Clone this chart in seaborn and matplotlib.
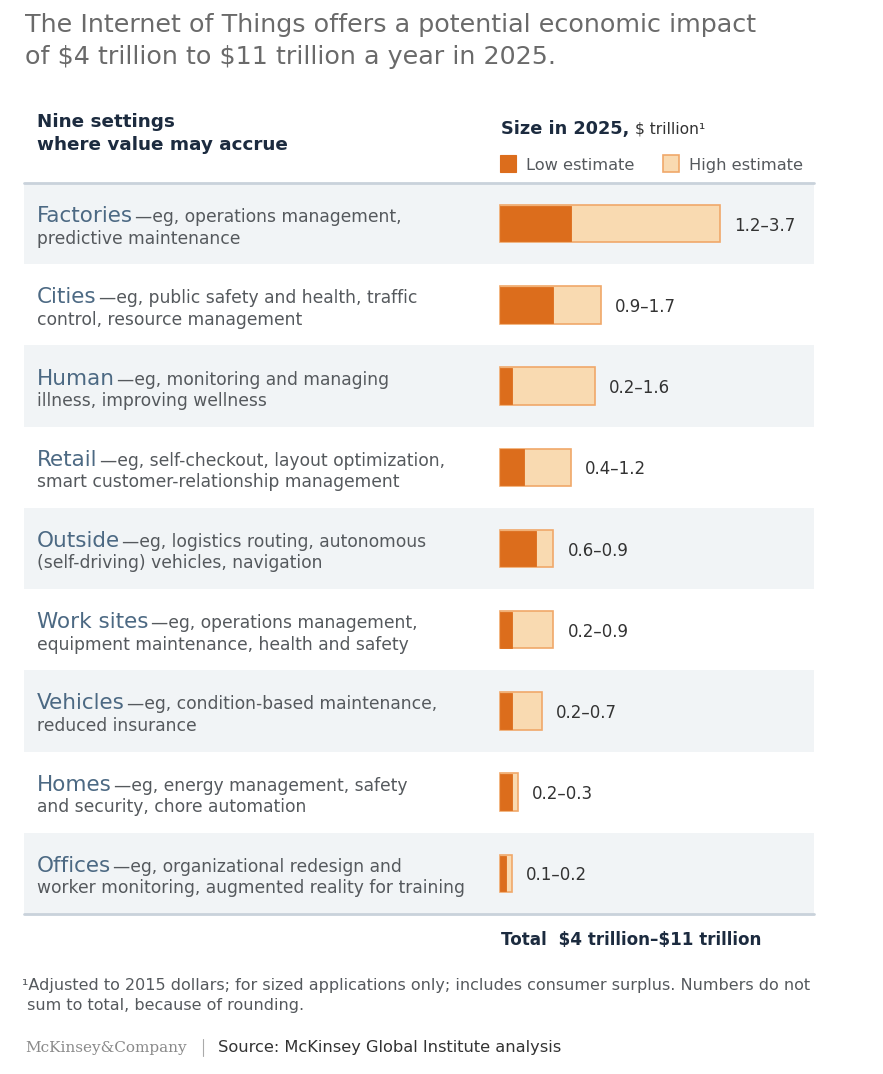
import matplotlib
matplotlib.use("Agg")
import matplotlib.pyplot as plt
import matplotlib.transforms as mtransforms
from matplotlib.patches import Rectangle
import seaborn as sns
import pandas as pd

# ---------------- data ----------------
settings = ["Factories", "Cities", "Human", "Retail", "Outside",
            "Work sites", "Vehicles", "Homes", "Offices"]
desc_line1 = ["—eg, operations management,",
              "—eg, public safety and health, traffic",
              "—eg, monitoring and managing",
              "—eg, self-checkout, layout optimization,",
              "—eg, logistics routing, autonomous",
              "—eg, operations management,",
              "—eg, condition-based maintenance,",
              "—eg, energy management, safety",
              "—eg, organizational redesign and"]
desc_line2 = ["predictive maintenance",
              "control, resource management",
              "illness, improving wellness",
              "smart customer-relationship management",
              "(self-driving) vehicles, navigation",
              "equipment maintenance, health and safety",
              "reduced insurance",
              "and security, chore automation",
              "worker monitoring, augmented reality for training"]
low_estimate = [1.2, 0.9, 0.2, 0.4, 0.6, 0.2, 0.2, 0.2, 0.1]
high_estimate = [3.7, 1.7, 1.6, 1.2, 0.9, 0.9, 0.7, 0.3, 0.2]

title_lines = ["The Internet of Things offers a potential economic impact",
               "of $4 trillion to $11 trillion a year in 2025."]
footnote_lines = ["¹Adjusted to 2015 dollars; for sized applications only; includes consumer surplus. Numbers do not",
                  " sum to total, because of rounding."]
total_text = "Total  $4 trillion–$11 trillion"

# ---------------- style ----------------
sns.set_theme(style="white")
plt.rcParams["font.family"] = ["DejaVu Sans"]
plt.rcParams["text.parse_math"] = False

C_LOW = "#dc6d1c"
C_HIGH = "#f9dab1"
C_HIGH_EDGE = "#f0a86a"
C_STRIPE = "#f1f4f6"
C_RULE = "#c9d2db"
C_NAME = "#4c6983"
C_DESC = "#55595d"
C_NAVY = "#1c2b3f"
C_TITLE = "#6a6a6a"

W, H = 883, 1074
fig = plt.figure(figsize=(W / 100, H / 100), dpi=100)
fig.patch.set_facecolor("white")


def fx(x):
    return x / W


def fy(y):
    return 1 - y / H


# axes: x from 24 to 814 px, y from 183 to 914 px
ax_l, ax_r, ax_t, ax_b = 24, 814, 183, 914
ax = fig.add_axes([fx(ax_l), fy(ax_b), fx(ax_r - ax_l), (ax_b - ax_t) / H])
scale = 59.4  # px per trillion; zero at x=500 px

df = pd.DataFrame({"setting": settings, "low": low_estimate, "high": high_estimate})

# stripes
n = len(settings)
for i in range(n):
    if i % 2 == 0:
        ax.axhspan(i - 0.5, i + 0.5, color=C_STRIPE, lw=0, zorder=0)

sns.barplot(data=df, x="high", y="setting", orient="h", color=C_HIGH,
            edgecolor=C_HIGH_EDGE, linewidth=1.2, width=0.46, ax=ax,
            saturation=1, zorder=2)
sns.barplot(data=df, x="low", y="setting", orient="h", color=C_LOW,
            edgecolor=C_LOW, linewidth=0.6, width=0.44, ax=ax,
            saturation=1, zorder=3)

ax.set_ylim(n - 0.5, -0.5)
ax.set_xlim((ax_l - 500) / scale, (ax_r - 500) / scale)
ax.set_xlabel("")
ax.set_ylabel("")
ax.set_xticks([])
ax.set_yticks([])
for s in ax.spines.values():
    s.set_visible(False)
ax.patch.set_alpha(0)

# horizontal rules
ax.axhline(-0.5, color=C_RULE, lw=2.0, zorder=4, clip_on=False)
ax.axhline(n - 0.5, color=C_RULE, lw=2.0, zorder=4, clip_on=False)

blend = mtransforms.blended_transform_factory(ax.transAxes, ax.transData)
row_px = (ax_b - ax_t) / n
x_name = (37 - ax_l) / (ax_r - ax_l)
for i, (name, d1, d2, lo, hi) in enumerate(zip(settings, desc_line1, desc_line2,
                                                 low_estimate, high_estimate)):
    y1 = i - 1.5 / row_px
    y2 = i + 20 / row_px
    t_name = ax.text(x_name, y1, name, transform=blend, fontsize=15.5,
                     color=C_NAME, va="baseline", ha="left")
    ax.annotate(d1, xy=(1, y1), xycoords=(t_name, "data"), xytext=(1.5, 0),
                textcoords="offset points", fontsize=12.3, color=C_DESC,
                va="baseline", ha="left", annotation_clip=False)
    ax.text(x_name, y2, d2, transform=blend, fontsize=12.3, color=C_DESC,
            va="baseline", ha="left")
    ax.text(hi + 14 / scale, i, f"{lo:.1f}–{hi:.1f}", fontsize=12,
            color="#333333", va="center_baseline", ha="left")

# ---------------- title ----------------
fig.text(fx(25), fy(32), title_lines[0], fontsize=18.3, color=C_TITLE, va="baseline")
fig.text(fx(25), fy(64), title_lines[1], fontsize=18.3, color=C_TITLE, va="baseline")

# ---------------- headers ----------------
fig.text(fx(37), fy(127), "Nine settings", fontsize=13.2, fontweight="bold",
         color=C_NAVY, va="baseline")
fig.text(fx(37), fy(150), "where value may accrue", fontsize=13.2, fontweight="bold",
         color=C_NAVY, va="baseline")
t_size = fig.text(fx(501), fy(134), "Size in 2025,", fontsize=12.8, fontweight="bold",
                  color=C_NAVY, va="baseline")
ax.annotate("$ trillion¹", xy=(1, fy(134)), xycoords=(t_size, "figure fraction"),
            xytext=(4, 0), textcoords="offset points", fontsize=11.2,
            color="#333333", va="baseline", ha="left", annotation_clip=False)

# legend
fig.add_artist(Rectangle((fx(500), fy(172)), fx(16), 17 / H, transform=fig.transFigure,
                         facecolor=C_LOW, edgecolor=C_LOW, lw=0.8))
fig.text(fx(526), fy(170), "Low estimate", fontsize=11.7, color=C_DESC, va="baseline")
fig.add_artist(Rectangle((fx(663), fy(172)), fx(16), 17 / H, transform=fig.transFigure,
                         facecolor=C_HIGH, edgecolor=C_HIGH_EDGE, lw=1.2))
fig.text(fx(689), fy(170), "High estimate", fontsize=11.7, color=C_DESC, va="baseline")

# total
fig.text(fx(501), fy(945), total_text, fontsize=12.1, fontweight="bold",
         color=C_NAVY, va="baseline")

# footnote
fig.text(fx(22), fy(990), footnote_lines[0], fontsize=11.5, color=C_DESC, va="baseline")
fig.text(fx(22), fy(1010), footnote_lines[1], fontsize=11.5, color=C_DESC, va="baseline")

# source
fig.text(fx(25), fy(1052), "McKinsey&Company", fontsize=11, family="DejaVu Serif",
         color="#8a8a8a", va="baseline")
fig.add_artist(plt.Line2D([fx(203), fx(203)], [fy(1056), fy(1039)],
                          transform=fig.transFigure, color="#aaaaaa", lw=0.8))
fig.text(fx(218), fy(1052), "Source: McKinsey Global Institute analysis", fontsize=11.7,
         color="#333333", va="baseline")

fig.savefig("out.png", dpi=100)
